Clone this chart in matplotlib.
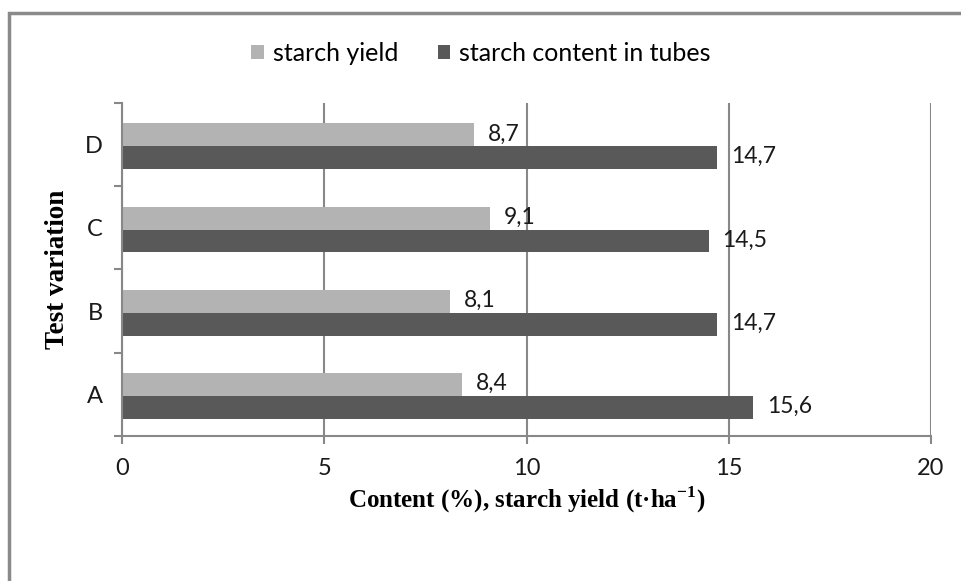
import numpy as np
import matplotlib.pyplot as plt
from matplotlib.patches import Rectangle

# data
variants = ['A', 'B', 'C', 'D']
starch_yield = [8.4, 8.1, 9.1, 8.7]
starch_content = [15.6, 14.7, 14.5, 14.7]
x_ticks = [0, 5, 10, 15, 20]

light = '#b3b3b3'
dark = '#595959'
grid_col = '#888888'

plt.rcParams['font.family'] = ['Lato', 'DejaVu Sans']
plt.rcParams['mathtext.fontset'] = 'custom'
plt.rcParams['mathtext.rm'] = 'Liberation Serif:bold'
plt.rcParams['mathtext.bf'] = 'Liberation Serif:bold'

fig = plt.figure(figsize=(9.62, 5.81), dpi=100)
ax = fig.add_axes([0.1268, 0.2496, 0.8410, 0.5731])

y = np.arange(len(variants))
h = 0.275
b1 = ax.barh(y + h / 2 - 0.02, starch_yield, height=h, color=light, label='starch yield', zorder=2)
b2 = ax.barh(y - h / 2 - 0.02, starch_content, height=h, color=dark, label='starch content in tubes', zorder=2)

for bars, vals in ((b1, starch_yield), (b2, starch_content)):
    for bar, v in zip(bars, vals):
        ax.annotate(f'{v:.1f}'.replace('.', ','),
                    (bar.get_width(), bar.get_y() + bar.get_height() / 2),
                    xytext=(14, 1), textcoords='offset pixels',
                    va='center', ha='left', fontsize=16.5, color='#1a1a1a', zorder=3)

ax.set_xlim(0, 20)
ax.set_ylim(-0.5, len(variants) - 0.5)
ax.set_xticks(x_ticks)
ax.set_yticks(y)
ax.set_yticklabels(variants)
ax.set_yticks(np.arange(-0.5, len(variants)), minor=True)
ax.tick_params(axis='y', which='major', length=0, pad=14, labelsize=17, labelcolor='#1a1a1a')
ax.tick_params(axis='y', which='minor', length=6, width=1.5, color=grid_col, direction='out')
ax.tick_params(axis='x', length=6, width=1.5, color=grid_col, direction='out', pad=10,
               labelsize=17, labelcolor='#1a1a1a')

ax.xaxis.grid(True, color=grid_col, linewidth=1.5, zorder=1)
ax.set_axisbelow(True)
for s in ('top', 'right'):
    ax.spines[s].set_visible(False)
for s in ('left', 'bottom'):
    ax.spines[s].set_color(grid_col)
    ax.spines[s].set_linewidth(1.5)

ax.set_xlabel('Content (%), starch yield (t·ha$^{-1}$)', family='Liberation Serif',
              fontweight='bold', fontsize=18, va='center')
ax.xaxis.set_label_coords(0.5, -0.192)
ax.set_ylabel('Test variation', family='Liberation Serif', fontweight='bold', fontsize=19.5, va='center')
ax.yaxis.set_label_coords(-0.080, 0.5)

fig.legend(handles=[b1, b2], loc='center', bbox_to_anchor=(0.5, 0.908), ncol=2, frameon=False,
           fontsize=18, handlelength=0.5, handleheight=0.5, handletextpad=0.35, columnspacing=1.6)

# outer frame, only top and left edges visible in the reference
fig.patches.append(Rectangle((9 / 962, -0.1), 1.2, 1 - 13 / 581 + 0.1, transform=fig.transFigure,
                             fill=False, edgecolor='#8a8a8a', linewidth=2.5))

fig.savefig('out.png', dpi=100)
